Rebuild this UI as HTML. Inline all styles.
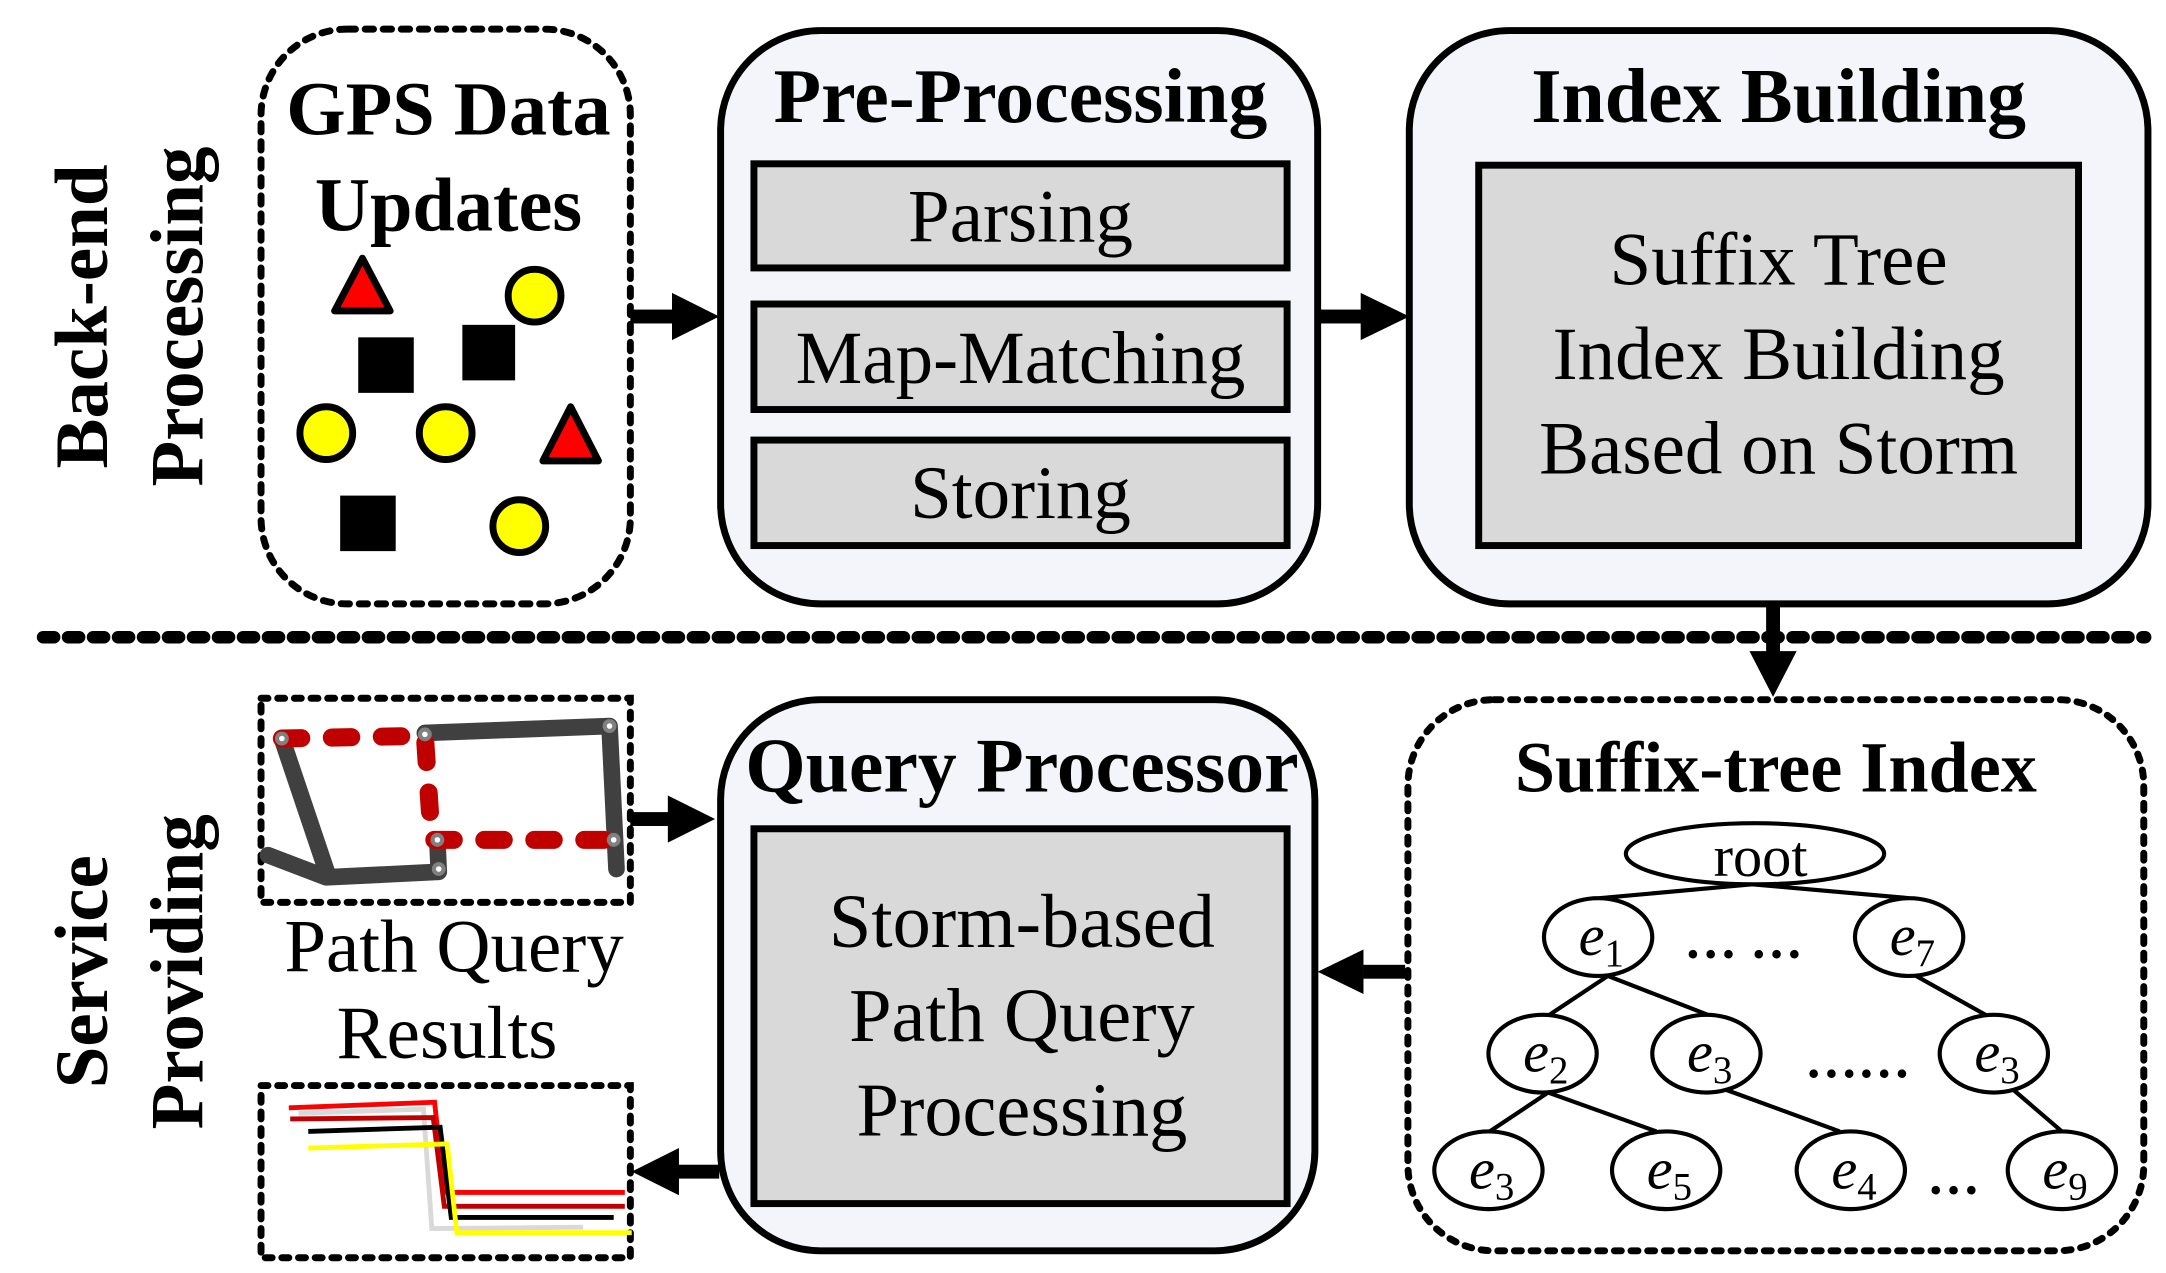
<!DOCTYPE html>
<html><head><meta charset="utf-8"><style>
html,body{margin:0;padding:0;background:#fff}
svg{display:block}
text{font-family:"Liberation Serif",serif}
</style></head><body>
<svg width="2166" height="1273" viewBox="0 0 1560 917" preserveAspectRatio="none" xmlns="http://www.w3.org/2000/svg">
<!-- Side labels -->
<g font-weight="bold" font-size="54" text-anchor="middle">
<text transform="translate(77,228) rotate(-90)">Back-end</text>
<text transform="translate(146,228) rotate(-90)">Processing</text>
<text transform="translate(77,700) rotate(-90)">Service</text>
<text transform="translate(146,700) rotate(-90)">Providing</text>
</g>
<!-- GPS box -->
<rect x="188" y="21" width="266" height="414" rx="62" fill="none" stroke="#000" stroke-width="5" stroke-dasharray="6,7" stroke-linecap="round"/>
<text x="323" y="97" font-size="55" font-weight="bold" text-anchor="middle">GPS Data</text>
<text x="323" y="166" font-size="55" font-weight="bold" text-anchor="middle">Updates</text>
<polygon points="261,186 241,224 281,224" fill="#f00" stroke="#000" stroke-width="5" stroke-linejoin="round"/>
<polygon points="411,293 391,332 431,332" fill="#f00" stroke="#000" stroke-width="5" stroke-linejoin="round"/>
<circle cx="385" cy="213" r="19" fill="#ff0" stroke="#000" stroke-width="5"/>
<circle cx="235" cy="312" r="19" fill="#ff0" stroke="#000" stroke-width="5"/>
<circle cx="321" cy="312" r="19" fill="#ff0" stroke="#000" stroke-width="5"/>
<circle cx="374" cy="379" r="19" fill="#ff0" stroke="#000" stroke-width="5"/>
<rect x="258" y="243" width="40" height="40" fill="#000"/>
<rect x="333" y="234" width="38" height="40" fill="#000"/>
<rect x="245" y="357" width="40" height="40" fill="#000"/>
<!-- arrows -->
<g fill="#000">
<rect x="454" y="223" width="32" height="10"/><polygon points="484,211 518,228 484,245"/>
<rect x="950" y="223" width="32" height="10"/><polygon points="980,211 1015,228 980,245"/>
<rect x="1272" y="435" width="10" height="36"/><polygon points="1260,469 1294,469 1277,502"/>
<rect x="454" y="585" width="30" height="10"/><polygon points="481,573 515,590 481,607"/>
<rect x="982" y="695" width="30" height="10"/><polygon points="982,684 949,700 982,716"/>
<rect x="486" y="839" width="32" height="10"/><polygon points="489,827 455,844 489,861"/>
</g>
<!-- Pre-Processing -->
<rect x="519" y="22" width="430" height="413" rx="72" fill="#f3f5fa" stroke="#000" stroke-width="5"/>
<text x="735" y="88" font-size="56" font-weight="bold" text-anchor="middle">Pre-Processing</text>
<g fill="#d9d9d9" stroke="#000" stroke-width="5">
<rect x="543" y="118" width="384" height="75"/>
<rect x="543" y="219" width="384" height="76"/>
<rect x="543" y="317" width="384" height="76"/>
</g>
<g font-size="54" text-anchor="middle">
<text x="735" y="174">Parsing</text>
<text x="735" y="276">Map-Matching</text>
<text x="735" y="373">Storing</text>
</g>
<!-- Index Building -->
<rect x="1015" y="22" width="532" height="413" rx="72" fill="#f3f5fa" stroke="#000" stroke-width="5"/>
<text x="1281" y="88" font-size="56" font-weight="bold" text-anchor="middle">Index Building</text>
<rect x="1065" y="119" width="432" height="274" fill="#d9d9d9" stroke="#000" stroke-width="5"/>
<g font-size="54" text-anchor="middle">
<text x="1281" y="205">Suffix Tree</text>
<text x="1281" y="273">Index Building</text>
<text x="1281" y="341">Based on Storm</text>
</g>
<!-- separator -->
<line x1="31" y1="459" x2="1545" y2="459" stroke="#000" stroke-width="9" stroke-dasharray="8,10" stroke-linecap="round"/>
<!-- Path box -->
<rect x="188" y="503" width="266" height="147" fill="none" stroke="#000" stroke-width="5" stroke-dasharray="5,7" stroke-linecap="round"/>
<g stroke="#404040" stroke-width="12" fill="none" stroke-linecap="round" stroke-linejoin="round">
<polyline points="193,616 235,632 316,628 315,605"/>
<polyline points="203,532 235,627"/>
<polyline points="306,528 439,523 444,626"/>
</g>
<g stroke="#c00000" stroke-width="13" fill="none" stroke-linecap="round" stroke-dasharray="14,22">
<polyline points="203,532 306,530 311,605 442,605"/>
</g>
<g fill="#808080">
<circle cx="203" cy="532" r="5"/><circle cx="306" cy="529" r="5"/><circle cx="439" cy="523" r="5"/>
<circle cx="315" cy="605" r="5"/><circle cx="442" cy="605" r="5"/><circle cx="316" cy="626" r="5"/>
</g>
<g fill="#fff"><circle cx="203" cy="532" r="2"/><circle cx="306" cy="529" r="2"/><circle cx="439" cy="523" r="2"/><circle cx="315" cy="605" r="2"/><circle cx="442" cy="605" r="2"/><circle cx="316" cy="626" r="2"/></g>
<g font-size="54" text-anchor="middle">
<text x="327" y="700">Path Query</text>
<text x="322" y="762">Results</text>
</g>
<!-- Results box -->
<rect x="188" y="782" width="266" height="124" fill="none" stroke="#000" stroke-width="5" stroke-dasharray="5,7" stroke-linecap="round"/>
<g fill="none" stroke-width="3.5">
<polyline stroke="#ff0000" points="208,798 313,794 320,859 450,859"/>
<polyline stroke="#d9d9d9" points="215,802 305,799 311,885 420,884"/>
<polyline stroke="#c00000" points="209,806 312,805 320,869 450,869"/>
<polyline stroke="#000" points="222,815 317,812 325,877 442,877"/>
<polyline stroke="#ffff00" points="222,827 322,824 329,888 455,888"/>
</g>
<!-- Query Processor -->
<rect x="519" y="504" width="428" height="397" rx="72" fill="#f3f5fa" stroke="#000" stroke-width="5"/>
<text x="736" y="570" font-size="56" font-weight="bold" text-anchor="middle">Query Processor</text>
<rect x="543" y="597" width="384" height="270" fill="#d9d9d9" stroke="#000" stroke-width="5"/>
<g font-size="55" text-anchor="middle">
<text x="736" y="682">Storm-based</text>
<text x="736" y="750">Path Query</text>
<text x="736" y="818">Processing</text>
</g>
<!-- Suffix-tree Index -->
<rect x="1014" y="504" width="530" height="397" rx="62" fill="none" stroke="#000" stroke-width="5" stroke-dasharray="5,7" stroke-linecap="round"/>
<text x="1279" y="570" font-size="52" font-weight="bold" text-anchor="middle">Suffix-tree Index</text>
<g stroke="#000" stroke-width="3" fill="none">
<line x1="1262" y1="637" x2="1152" y2="647"/><line x1="1262" y1="637" x2="1375" y2="647"/>
<line x1="1158" y1="703" x2="1116" y2="731"/><line x1="1158" y1="703" x2="1230" y2="731"/>
<line x1="1380" y1="703" x2="1430" y2="731"/>
<line x1="1115" y1="787" x2="1073" y2="815"/><line x1="1115" y1="787" x2="1193" y2="815"/>
<line x1="1243" y1="785" x2="1325" y2="815"/><line x1="1450" y1="785" x2="1485" y2="815"/>
</g>
<g stroke="#000" stroke-width="3" fill="#fff">
<ellipse cx="1264" cy="615" rx="93" ry="22"/>
<ellipse cx="1151" cy="675" rx="39" ry="28"/><ellipse cx="1375" cy="675" rx="39" ry="28"/>
<ellipse cx="1111" cy="759" rx="39" ry="28"/><ellipse cx="1229" cy="759" rx="39" ry="28"/><ellipse cx="1436" cy="759" rx="39" ry="28"/>
<ellipse cx="1072" cy="843" rx="39" ry="28"/><ellipse cx="1200" cy="843" rx="39" ry="28"/><ellipse cx="1333" cy="843" rx="39" ry="28"/><ellipse cx="1485" cy="843" rx="39" ry="28"/>
</g>
<text x="1268" y="631" font-size="42" text-anchor="middle">root</text>
<g font-size="42" font-style="italic">
<text x="1137" y="688">e<tspan font-size="28" font-style="normal" dy="8">1</tspan></text>
<text x="1361" y="688">e<tspan font-size="28" font-style="normal" dy="8">7</tspan></text>
<text x="1097" y="772">e<tspan font-size="28" font-style="normal" dy="8">2</tspan></text>
<text x="1215" y="772">e<tspan font-size="28" font-style="normal" dy="8">3</tspan></text>
<text x="1422" y="772">e<tspan font-size="28" font-style="normal" dy="8">3</tspan></text>
<text x="1058" y="856">e<tspan font-size="28" font-style="normal" dy="8">3</tspan></text>
<text x="1186" y="856">e<tspan font-size="28" font-style="normal" dy="8">5</tspan></text>
<text x="1319" y="856">e<tspan font-size="28" font-style="normal" dy="8">4</tspan></text>
<text x="1471" y="856">e<tspan font-size="28" font-style="normal" dy="8">9</tspan></text>
</g>
<g font-size="38" font-weight="bold">
<text x="1213" y="690">… …</text>
<text x="1300" y="776">……</text>
<text x="1388" y="860">…</text>
</g>
</svg>
</body></html>
